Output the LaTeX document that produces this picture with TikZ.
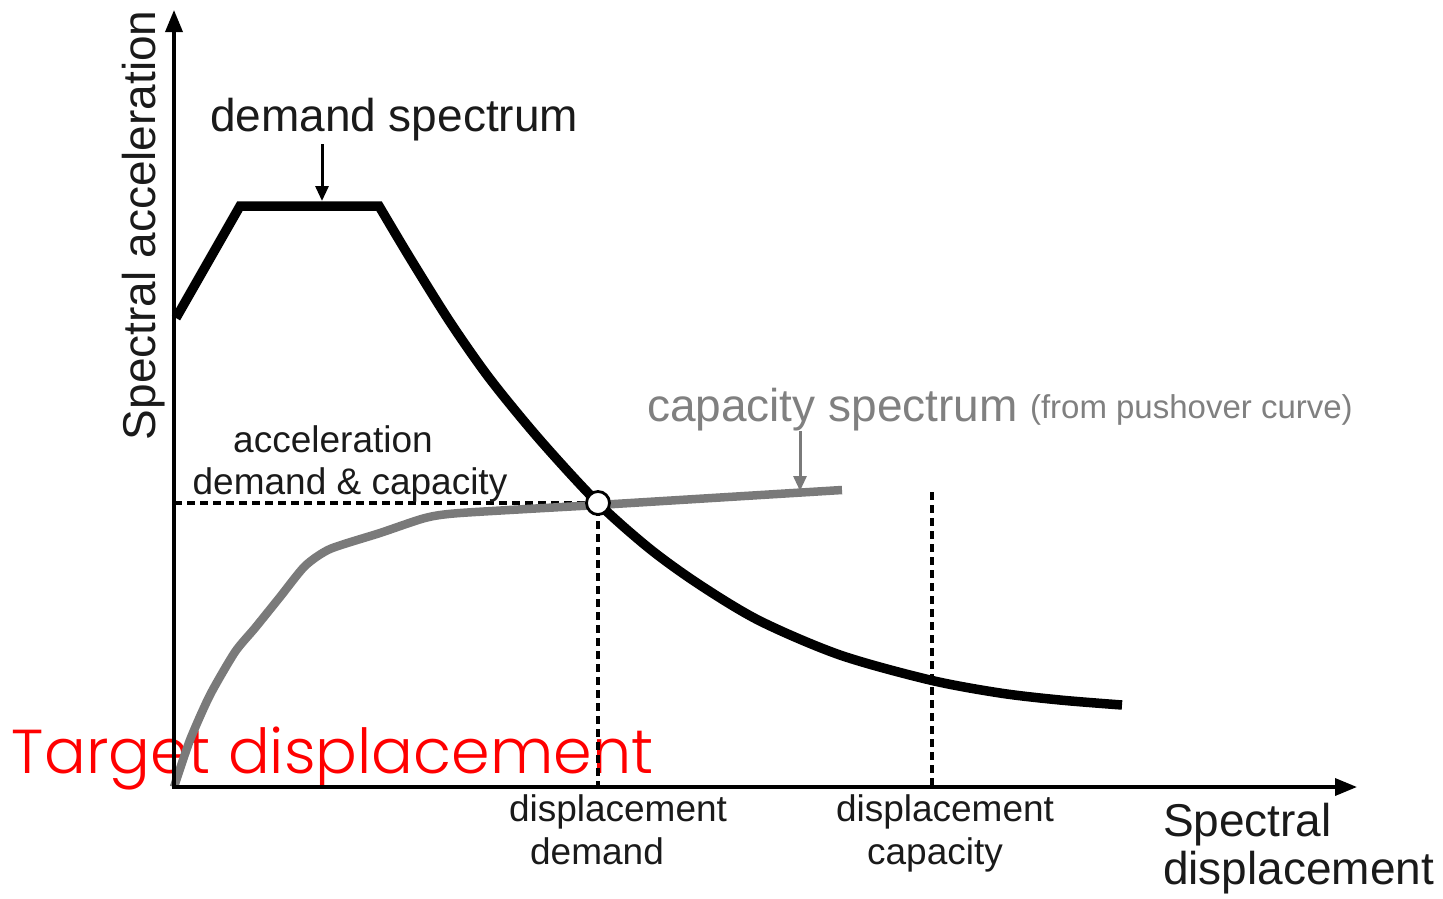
\documentclass[tikz,border=0pt]{standalone}
\usepackage{fontspec}
\setmainfont{Liberation Sans}
\newfontfamily\geofont{Poppins Light}
\usetikzlibrary{arrows.meta}
\definecolor{capgray}{HTML}{7A7A7A}
\definecolor{txtgray}{HTML}{808080}
\definecolor{txtblack}{HTML}{1A1A1A}
\definecolor{tgtred}{HTML}{FF0000}
\begin{document}
\begin{tikzpicture}[x=1pt,y=-1pt,
  big/.style={inner sep=0pt, outer sep=0pt, text=txtblack, font=\fontsize{46}{50}\selectfont},
  sml/.style={inner sep=0pt, outer sep=0pt, text=txtblack, font=\fontsize{37}{40}\selectfont},
  axisline/.style={line width=3.5pt, {Triangle[length=22pt,width=17pt]}-{Triangle[length=22pt,width=17pt]}},
  demandline/.style={line width=9.5pt, line join=miter, black},
  capline/.style={line width=8.5pt, capgray, line join=round},
  guide/.style={line width=3.4pt, dash pattern=on 8pt off 5pt},
  pointer/.style={line width=3pt, -{Triangle[length=15pt,width=13pt]}},
]
\useasboundingbox (0,0) rectangle (1443,898);

% red overlay title (behind the lines)
\node[anchor=base west, inner sep=0pt, outer sep=0pt, text=tgtred,
      font=\geofont\fontsize{62}{64}\selectfont] (target) at (12,773) {Target displacement};

% coordinates
\coordinate (O) at (174,787);
\coordinate (ytip) at (174,10);
\coordinate (xtip) at (1357,787);
\coordinate (ya) at (174,503);
\coordinate (xd) at (598,787);
\coordinate (dc1) at (932,492);
\coordinate (dc2) at (932,787);

% guides
\draw[guide] (ya) -- (598,503) -- (xd);
\draw[guide] (dc1) -- (dc2);

% capacity spectrum
\draw[capline] plot[smooth, tension=0.4] coordinates {(174,787) (190,740) (210,695) (235,652) (255,628) (280,597) (305,566) (330,549) (380,533) (425,518) (460,513) (598,505)} -- (842,490);

% demand spectrum
\draw[demandline] (176,318) -- (240,206) -- (379,206) -- plot[smooth, tension=0.5] coordinates {(379,206) (410,258) (450,322) (490,379) (540,440) (598,503) (650,549) (700,585) (760,621) (840,655) (930,680) (1000,693) (1060,700) (1122,705)};

% axes
\draw[axisline] (ytip) -- (O) -- (xtip);

% intersection point
\node[circle, draw=black, fill=white, line width=2.8pt, minimum size=23pt, inner sep=0pt] (ip) at (598,503) {};

% labels
\node[big, anchor=base west, rotate=90] (ylab) at (155,440) {Spectral acceleration};
\node[big, anchor=base west] (dslbl) at (210,131) {demand spectrum};
\coordinate (dsf) at (322,144);
\coordinate (dsa) at (322,201);
\draw[pointer] (dsf) -- (dsa);

\node[big, anchor=base west, text=txtgray] (cslbl) at (647,421) {capacity spectrum};
\node[inner sep=0pt, outer sep=0pt, anchor=base west, text=txtgray, font=\fontsize{33}{36}\selectfont] (cssub) at (1030,418) {(from pushover curve)};
\coordinate (csf) at (800,431);
\coordinate (csa) at (800,491);
\draw[pointer, capgray] (csf) -- (csa);

\node[sml, anchor=base] (adc1) at (333,452) {acceleration};
\node[sml, anchor=base] (adc2) at (350,494) {demand \& capacity};

\node[sml, anchor=base] (dd1) at (618,821) {displacement};
\node[sml, anchor=base] (dd2) at (597,864) {demand};
\node[sml, anchor=base] (dcp1) at (945,821) {displacement};
\node[sml, anchor=base] (dcp2) at (935,864) {capacity};

\node[big, anchor=base west] (xl1) at (1163,836) {Spectral};
\node[big, anchor=base west] (xl2) at (1163,884) {displacement};
\end{tikzpicture}
\end{document}
